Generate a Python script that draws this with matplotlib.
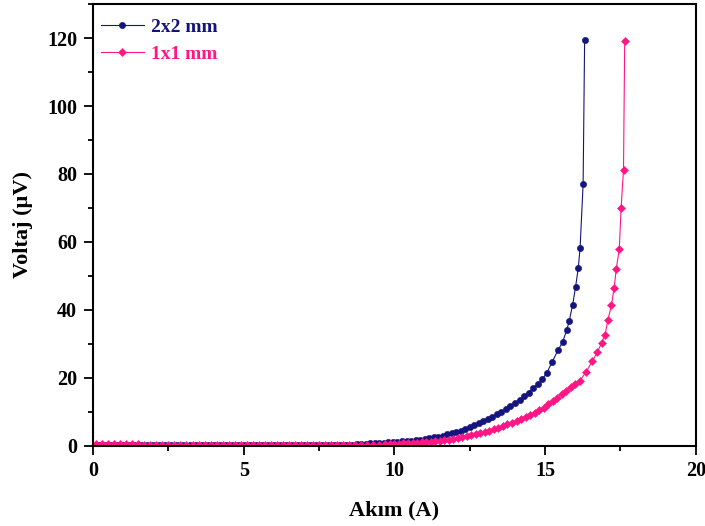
import numpy as np
import matplotlib
matplotlib.use("Agg")
import matplotlib.pyplot as plt
from matplotlib.ticker import MultipleLocator

plt.rcParams['font.family'] = ['Liberation Serif', 'DejaVu Serif']
plt.rcParams['font.weight'] = 'bold'

# 2x2 mm sample
akim_2x2 = [0.2, 0.4, 0.6, 0.8, 1.0, 1.2, 1.4, 1.6, 1.8, 2.0, 2.2, 2.4, 2.6, 2.8, 3.0,
            3.2, 3.4, 3.6, 3.8, 4.0, 4.2, 4.4, 4.6, 4.8, 5.0, 5.2, 5.4, 5.6, 5.8, 6.0,
            6.2, 6.4, 6.6, 6.8, 7.0, 7.2, 7.4, 7.6, 7.8, 8.0, 8.2, 8.4, 8.6,
            8.75, 8.9, 9.05, 9.2, 9.35, 9.5, 9.65, 9.8, 9.95, 10.1, 10.25, 10.4, 10.55,
            10.7, 10.85, 11.0, 11.15, 11.3, 11.45, 11.6, 11.75, 11.9, 12.05, 12.2, 12.35,
            12.5, 12.65, 12.8, 12.95, 13.1, 13.25, 13.4, 13.55, 13.7, 13.85, 14.0, 14.15,
            14.3, 14.45, 14.6, 14.75, 14.9, 15.05,
            15.23, 15.43, 15.58, 15.72, 15.80, 15.91, 16.01, 16.10, 16.16, 16.26, 16.31]
voltaj_2x2 = [0.2, 0.3, 0.2, 0.3, 0.2, 0.3, 0.2, 0.1, 0.2, 0.1, 0.2, 0.2, 0.1, 0.2, 0.2,
              0.1, 0.2, 0.2, 0.1, 0.2, 0.2, 0.2, 0.1, 0.2, 0.2, 0.2, 0.2, 0.2, 0.1, 0.2,
              0.2, 0.2, 0.2, 0.2, 0.2, 0.1, 0.2, 0.2, 0.2, 0.2, 0.2, 0.3, 0.3,
              0.4, 0.45, 0.5, 0.6, 0.65, 0.75, 0.8, 0.9, 1.0, 1.1, 1.2, 1.3, 1.45,
              1.6, 1.75, 1.95, 2.15, 2.4, 2.65, 2.95, 3.3, 3.6, 4.0, 4.4, 4.9,
              5.4, 5.9, 6.5, 7.2, 7.8, 8.5, 9.2, 10.0, 10.8, 11.7, 12.6, 13.5,
              14.5, 15.6, 16.8, 18.1, 19.5, 21.3,
              24.6, 28.1, 30.5, 34.1, 36.7, 41.4, 46.7, 52.3, 58.3, 77.0, 119.4]

# 1x1 mm sample
akim_1x1 = [0.1, 0.3, 0.5, 0.7, 0.9, 1.1, 1.3, 1.5, 1.7, 1.9, 2.1, 2.3, 2.5, 2.7, 2.9,
            3.1, 3.3, 3.5, 3.7, 3.9, 4.1, 4.3, 4.5, 4.7, 4.9, 5.1, 5.3, 5.5, 5.7, 5.9,
            6.1, 6.3, 6.5, 6.7, 6.9, 7.1, 7.3, 7.5, 7.7, 7.9, 8.1, 8.3, 8.5, 8.7, 8.9,
            9.1, 9.3, 9.5,
            9.7, 9.85, 10.0, 10.15, 10.3, 10.45, 10.6, 10.75, 10.9, 11.05, 11.2, 11.35,
            11.5, 11.65, 11.8, 11.95, 12.1, 12.25, 12.4, 12.55, 12.7, 12.85, 13.0, 13.15,
            13.3, 13.45, 13.6, 13.75, 13.9, 14.05, 14.2, 14.35, 14.5, 14.65, 14.8, 14.95,
            15.1, 15.25, 15.4, 15.55, 15.7, 15.85, 16.0, 16.15,
            16.36, 16.57, 16.73, 16.88, 16.99, 17.08, 17.20, 17.29, 17.36, 17.46, 17.52,
            17.60, 17.64]
voltaj_1x1 = [0.4, 0.5, 0.5, 0.4, 0.5, 0.5, 0.4, 0.5, 0.2, 0.2, 0.2, 0.2, 0.2, 0.2, 0.2,
              0.2, 0.2, 0.2, 0.2, 0.2, 0.2, 0.2, 0.2, 0.2, 0.2, 0.2, 0.2, 0.2, 0.2, 0.2,
              0.2, 0.2, 0.2, 0.2, 0.2, 0.2, 0.2, 0.2, 0.2, 0.2, 0.2, 0.2, 0.2, 0.2, 0.2,
              0.2, 0.3, 0.3,
              0.35, 0.4, 0.45, 0.55, 0.6, 0.7, 0.8, 0.85, 0.95, 1.0, 1.1, 1.25,
              1.4, 1.55, 1.7, 1.9, 2.1, 2.4, 2.7, 3.0, 3.3, 3.6, 4.0, 4.4,
              4.8, 5.3, 5.8, 6.2, 6.7, 7.2, 7.8, 8.4, 9.0, 9.7, 10.4, 11.2,
              12.2, 13.1, 14.1, 15.2, 16.2, 17.1, 18.1, 19.0,
              21.7, 24.9, 27.5, 30.3, 32.7, 36.9, 41.3, 46.5, 52.1, 57.8, 69.9,
              81.2, 119.3]

mavi = '#14147e'
pembe = '#ff1685'

fig = plt.figure(figsize=(7.05, 5.26), dpi=100)
ax = fig.add_axes([0.132, 0.153, 0.855, 0.839])

ax.plot(akim_2x2, voltaj_2x2, color=mavi, lw=0.8, marker='o', ms=4.5,
        markeredgewidth=0.4, label='2x2 mm')
ax.plot(akim_1x1, voltaj_1x1, color=pembe, lw=0.8, marker='D', ms=4.2,
        markeredgewidth=0.4, label='1x1 mm')

ax.set_xlim(0, 20)
ax.set_ylim(0, 130)
ax.xaxis.set_major_locator(MultipleLocator(5))
ax.xaxis.set_minor_locator(MultipleLocator(2.5))
ax.yaxis.set_major_locator(MultipleLocator(20))
ax.yaxis.set_minor_locator(MultipleLocator(10))
ax.tick_params(which='major', direction='out', length=6.5, width=1.3, labelsize=14.5, pad=5)
ax.tick_params(which='minor', direction='out', length=3.5, width=1.3)
for s in ax.spines.values():
    s.set_linewidth(1.5)

ax.set_xlabel('Akım (A)', fontsize=16, fontweight='bold', labelpad=14)
ax.set_ylabel('Voltaj (\u00b5V)', fontsize=16, fontweight='bold', labelpad=10)

leg = ax.legend(loc='upper left', bbox_to_anchor=(0.0, 0.986), frameon=False,
                handlelength=2.2, handletextpad=0.4, labelspacing=0.5,
                borderaxespad=0.0, prop={'weight': 'bold', 'size': 14})
for txt, c in zip(leg.get_texts(), [mavi, pembe]):
    txt.set_color(c)

fig.savefig('out.png', dpi=100)
